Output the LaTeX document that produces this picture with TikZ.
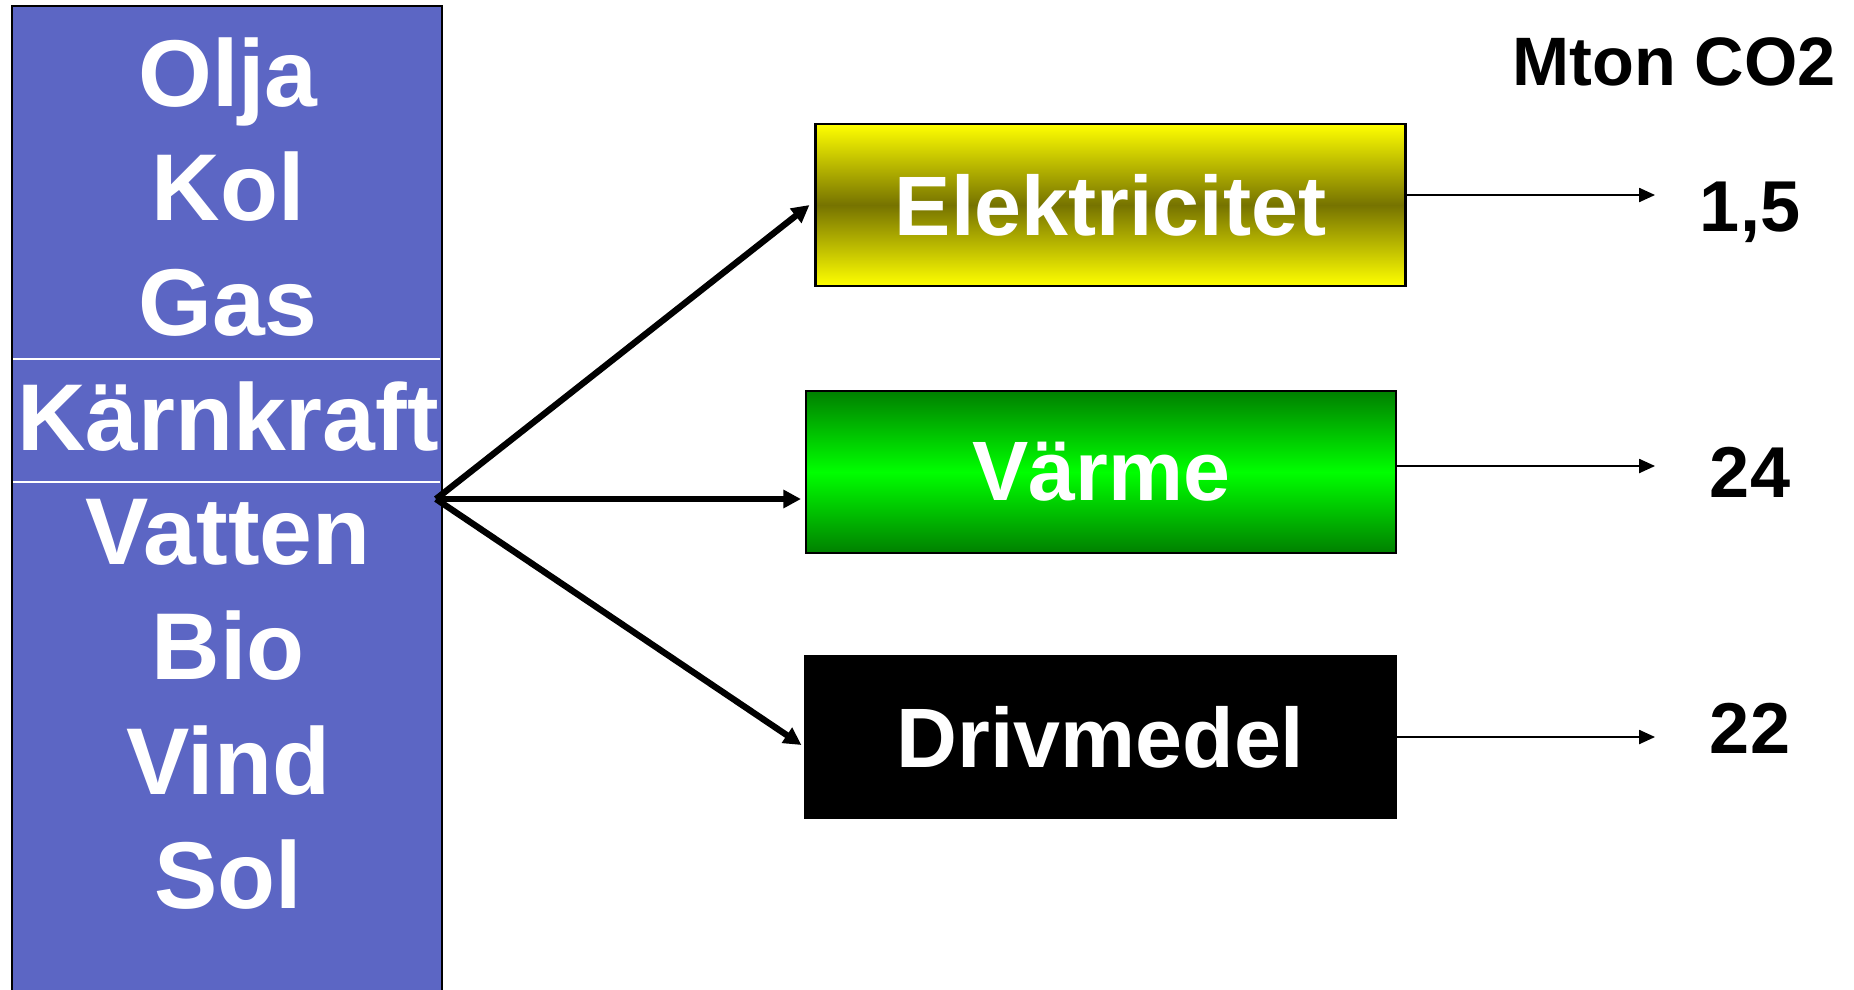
\documentclass[tikz,border=0pt]{standalone}
\usepackage{fontspec}
\setmainfont{Liberation Sans}
\usetikzlibrary{arrows.meta,positioning}

\definecolor{colblue}{HTML}{5C66C4}
\definecolor{elolive}{HTML}{767300}
\definecolor{vmdark}{HTML}{008000}

\tikzset{
  source/.style={text=white, anchor=base, inner sep=0pt,
    font=\fontsize{27}{32}\selectfont\bfseries},
  sector/.style={draw=black, line width=0.6pt, minimum width=5.9cm,
    minimum height=1.62cm, inner sep=0pt, text=white,
    font=\fontsize{24}{28}\selectfont\bfseries},
  flow/.style={line width=1.8pt, -{Triangle[length=5pt,width=5pt]}},
  emis/.style={line width=0.45pt, -{Triangle[length=4.5pt,width=4pt]}},
  amount/.style={anchor=base, font=\fontsize{20.5}{24}\selectfont\bfseries},
}

\begin{document}
\begin{tikzpicture}
	\useasboundingbox (0,0) rectangle (18.54,9.89);

	% Energy sources column
	\draw[fill=colblue, draw=black, line width=0.7pt] (0.12,-0.2) rectangle (4.42,9.83);
	\draw[white, line width=0.4pt] (0.13,6.30) -- (4.40,6.30);
	\draw[white, line width=0.4pt] (0.13,5.07) -- (4.40,5.07);
	\foreach \name [count=\i from 0] in {Olja,Kol,Gas,Kärnkraft,Vatten,Bio,Vind,Sol}
		\node[source] (s\i) at (2.28, 8.83-1.147*\i) {\name};

	% Sectors
	\node[sector, top color=yellow, bottom color=yellow, middle color=elolive] (el) at (11.105,7.84) {Elektricitet};
	\node[sector, top color=vmdark, bottom color=vmdark, middle color=green] (vm) at (11.01,5.17) {Värme};
	\node[sector, fill=black] (dm) at (11.005,2.52) {Drivmedel};

	% Arrows from the sources
	\coordinate (hub) at (4.36,4.90);
	\draw[flow] (hub) -- ([xshift=-0.5mm]el.west);
	\draw[flow, shorten >=0.4mm] (hub) -- (vm.west |- hub);
	\draw[flow] (hub) -- ([xshift=-0.3mm,yshift=-0.8mm]dm.west);

	% Emissions per sector
	\node[anchor=base, font=\fontsize{19.5}{24}\selectfont\bfseries] (unit) at (16.74,9.04) {Mton CO2};
	\node[amount] (v1) at (17.50,7.58) {1,5};
	\node[amount] (v2) at (17.50,4.92) {24};
	\node[amount] (v3) at (17.50,2.36) {22};

	\coordinate (e1) at (16.55,7.94);
	\coordinate (e2) at (16.55,5.23);
	\coordinate (e3) at (16.55,2.52);
	\draw[emis] (el.east |- e1) -- (e1);
	\draw[emis] (vm.east |- e2) -- (e2);
	\draw[emis] (dm.east |- e3) -- (e3);
\end{tikzpicture}
\end{document}
